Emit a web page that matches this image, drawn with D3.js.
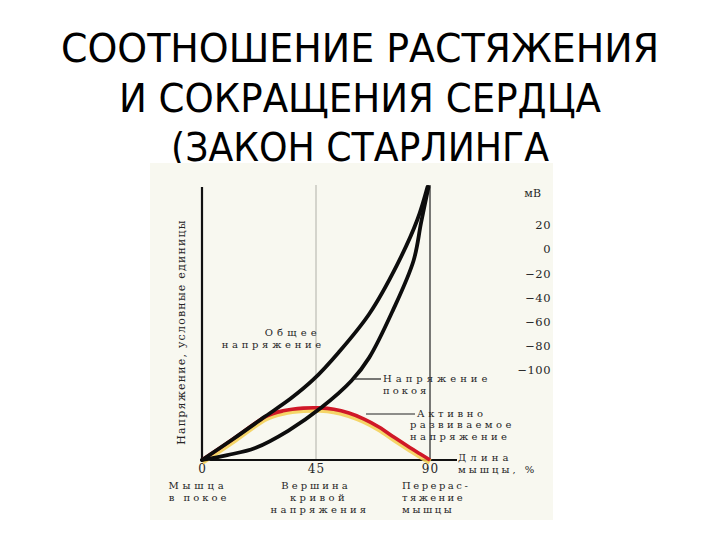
<!DOCTYPE html>
<html>
<head>
<meta charset="utf-8">
<script src="https://cdn.jsdelivr.net/npm/d3@7"></script>
<style>
  body { margin: 0; background: #fff; }
  svg text { font-family: "DejaVu Serif", "Liberation Serif", serif; fill: #262626; }
</style>
</head>
<body>
<div id="chart"></div>
<script>
// data (length of muscle %, tension in arbitrary units)
var totalTension = [[0, 0], [12, 7.5], [25, 16], [35, 22.5], [44, 29.5], [54, 39.5], [66, 53.5], [77, 71.5], [85, 88], [89, 100]];
var passiveTension = [[0, 0], [10, 1.8], [21, 4.4], [34, 10.7], [47, 19.1], [59, 29], [66, 37.5], [75.4, 54.9], [83.5, 73], [86.5, 87], [89.4, 100]];
var activeTension = [[0, 0], [12, 7.5], [25.5, 16.1], [32, 18], [40, 19], [46.6, 19.1], [52, 18.6], [58, 17.2], [64, 15], [70, 12], [76, 8.2], [82, 4.6], [86, 2.3], [90, 0]];
var xTicks = [0, 45, 90];
var mvTicks = [20, 0, -20, -40, -60, -80, -100];
var titleLines = ["СООТНОШЕНИЕ РАСТЯЖЕНИЯ", "И СОКРАЩЕНИЯ СЕРДЦА", "(ЗАКОН СТАРЛИНГА"];

var svg = d3.select("#chart")
    .append("svg")
    .attr("width", 720)
    .attr("height", 540);

// title
var titleWidths = [598, 482, 378];
titleLines.forEach(function (t, i) {
    svg.append("text")
        .attr("x", 360)
        .attr("y", 62 + i * 49.5)
        .attr("text-anchor", "middle")
        .style("font-family", "'Liberation Sans Narrow', 'DejaVu Sans Condensed', 'Liberation Sans', sans-serif")
        .style("font-size", "39px")
        .style("fill", "#000")
        .attr("textLength", titleWidths[i])
        .attr("lengthAdjust", "spacingAndGlyphs")
        .text(t);
});

// picture background
svg.append("rect")
    .attr("x", 150).attr("y", 163)
    .attr("width", 403).attr("height", 357)
    .attr("fill", "#f8f8f0");

var x = d3.scaleLinear().domain([0, 90]).range([202, 430]);
var y = d3.scaleLinear().domain([0, 100]).range([460, 187]);

// guide lines
svg.append("line")
    .attr("x1", x(45)).attr("x2", x(45))
    .attr("y1", 185).attr("y2", y(0))
    .attr("stroke", "#b0b0a8").attr("stroke-width", 1);
svg.append("line")
    .attr("x1", x(90)).attr("x2", x(90))
    .attr("y1", 185).attr("y2", y(0))
    .attr("stroke", "#222").attr("stroke-width", 1.2);

// axes
svg.append("line")
    .attr("x1", x(0)).attr("x2", x(0))
    .attr("y1", 187).attr("y2", y(0) + 1)
    .attr("stroke", "#111").attr("stroke-width", 2.2);
svg.append("line")
    .attr("x1", x(0)).attr("x2", x(90) + 27)
    .attr("y1", y(0)).attr("y2", y(0))
    .attr("stroke", "#111").attr("stroke-width", 1.8);

var xAxis = d3.axisBottom(x).tickValues(xTicks).tickSize(0).tickPadding(4);
svg.append("g")
    .attr("transform", "translate(0," + y(0) + ")")
    .call(xAxis)
    .call(function (g) { g.select(".domain").remove(); })
    .selectAll("text")
    .style("font-size", "12px")
    .style("font-family", "'DejaVu Serif', serif")
    .style("letter-spacing", "1px")
    .attr("fill", "#262626");

// mV scale on the right
var mv = d3.scaleLinear().domain([20, -100]).range([225, 370]);
svg.append("g")
    .attr("transform", "translate(551,0)")
    .call(d3.axisLeft(mv).tickValues(mvTicks).tickSize(0).tickPadding(0)
        .tickFormat(function (d) { return d < 0 ? "\u2212" + Math.abs(d) : d; }))
    .call(function (g) { g.select(".domain").remove(); })
    .selectAll("text")
    .style("font-size", "11.5px")
    .style("font-family", "'DejaVu Serif', serif")
    .style("letter-spacing", "0.5px")
    .attr("fill", "#262626");
svg.append("text")
    .attr("x", 541).attr("y", 197)
    .attr("text-anchor", "end")
    .style("font-size", "11px")
    .text("мВ");

var line = d3.line()
    .x(function (d) { return x(d[0]); })
    .y(function (d) { return y(d[1]); })
    .curve(d3.curveCatmullRom.alpha(0.5));

// active tension (red with yellow halo)
svg.append("path")
    .datum(activeTension)
    .attr("d", line)
    .attr("fill", "none")
    .attr("stroke", "#f4cf50")
    .attr("stroke-width", 6)
    .attr("transform", "translate(0,2)")
    .attr("opacity", 0.85);
svg.append("path")
    .datum(activeTension)
    .attr("d", line)
    .attr("fill", "none")
    .attr("stroke", "#d01828")
    .attr("stroke-width", 3.6);

// total and passive tension
[totalTension, passiveTension].forEach(function (data) {
    svg.append("path")
        .datum(data)
        .attr("d", line)
        .attr("fill", "none")
        .attr("stroke", "#0d0d0d")
        .attr("stroke-width", 3.8)
        .attr("stroke-linecap", "round");
});

// leader lines
function leader(x1, y1, x2, y2) {
    svg.append("line")
        .attr("x1", x1).attr("y1", y1).attr("x2", x2).attr("y2", y2)
        .attr("stroke", "#222").attr("stroke-width", 1.2);
}
leader(353, 379, 381, 379);
leader(366, 414, 415, 414);

// labels
function label(tx, ty, txt, anchor, ls) {
    svg.append("text")
        .attr("x", tx).attr("y", ty)
        .attr("text-anchor", anchor || "start")
        .style("font-size", "10px")
        .style("letter-spacing", (ls || 3.8) + "px")
        .text(txt);
}
label(321, 336, "Общее", "end", 4.2);
label(325, 348, "напряжение", "end", 3.7);
label(383, 382, "Напряжение", "start", 4);
label(383, 394, "покоя", "start", 3);
label(417, 416.5, "Активно", "start", 3.6);
label(410, 428.2, "развиваемое", "start", 3.4);
label(410, 439.9, "напряжение", "start", 3.4);
label(458, 461, "Длина", "start", 4.2);
label(458, 473, "мышцы, %", "start", 3);
label(198, 489, "Мышца", "middle", 3.8);
label(199, 501, "в покое", "middle", 3);
label(316, 489, "Вершина", "middle", 3);
label(319, 501, "кривой", "middle", 3.4);
label(320, 513, "напряжения", "middle", 3.2);
label(402, 489, "Перерас-", "start", 2.5);
label(402, 501, "тяжение", "start", 2.4);
label(402, 513, "мышцы", "start", 2.6);

svg.append("text")
    .attr("transform", "translate(185,332) rotate(-90)")
    .attr("text-anchor", "middle")
    .style("font-size", "11px")
    .style("letter-spacing", "1.2px")
    .text("Напряжение, условные единицы");
</script>
</body>
</html>
